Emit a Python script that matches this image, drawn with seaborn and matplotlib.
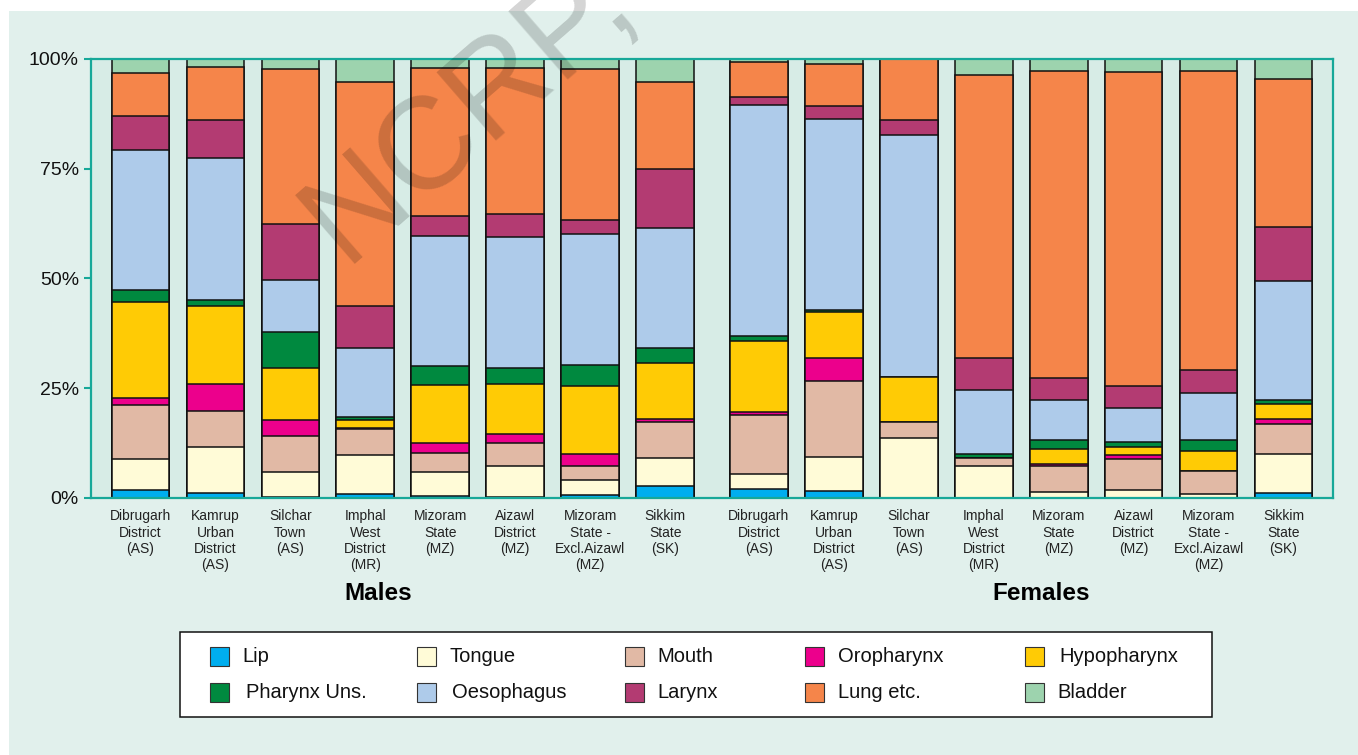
import numpy as np
import pandas as pd
import seaborn as sns
import matplotlib.pyplot as plt
from matplotlib.patches import Rectangle

# registries (same order for males and females)
places = ["Dibrugarh\nDistrict\n(AS)", "Kamrup\nUrban\nDistrict\n(AS)", "Silchar\nTown\n(AS)",
          "Imphal\nWest\nDistrict\n(MR)", "Mizoram\nState\n(MZ)", "Aizawl\nDistrict\n(MZ)",
          "Mizoram\nState -\nExcl.Aizawl\n(MZ)", "Sikkim\nState\n(SK)"]
groups = ["Males", "Females"]
sites = ["Lip", "Tongue", "Mouth", "Oropharynx", "Hypopharynx",
         "Pharynx Uns.", "Oesophagus", "Larynx", "Lung etc.", "Bladder"]

# percent of cases, 8 male bars then 8 female bars
lip = [1.8, 1.1, 0.2, 0.8, 0.5, 0.2, 0.7, 2.8, 2.0, 1.6, 0.0, 0.0, 0.0, 0.0, 0.0, 1.1]
tongue = [7.0, 10.5, 5.8, 9.0, 5.4, 7.1, 3.3, 6.2, 3.4, 7.7, 13.7, 7.3, 1.3, 1.9, 0.8, 8.9]
mouth = [12.4, 8.3, 8.2, 6.0, 4.3, 5.2, 3.2, 8.2, 13.5, 17.4, 3.5, 1.8, 6.1, 6.9, 5.3, 6.8]
oropharynx = [1.6, 6.1, 3.6, 0.2, 2.3, 2.0, 2.8, 0.7, 0.6, 5.2, 0.0, 0.0, 0.4, 0.9, 0.0, 1.2]
hypopharynx = [21.8, 17.8, 11.7, 1.7, 13.2, 11.4, 15.5, 12.8, 16.3, 10.5, 10.4, 0.0, 3.4, 2.0, 4.5, 3.3]
pharynx = [2.8, 1.2, 8.3, 0.7, 4.3, 3.8, 4.8, 3.5, 1.1, 0.5, 0.0, 0.9, 1.9, 1.0, 2.6, 1.1]
oesophagus = [31.9, 32.5, 11.8, 15.7, 29.7, 29.7, 29.9, 27.2, 52.7, 43.5, 55.1, 14.5, 9.2, 7.8, 10.7, 27.0]
larynx = [7.8, 8.7, 12.9, 9.7, 4.5, 5.2, 3.1, 13.6, 1.7, 2.9, 3.5, 7.3, 5.1, 5.0, 5.3, 12.4]
lung = [9.7, 11.9, 35.3, 50.9, 33.7, 33.3, 34.5, 19.7, 8.1, 9.5, 13.8, 64.6, 69.8, 71.5, 68.1, 33.7]
bladder = [3.2, 1.9, 2.2, 5.3, 2.1, 2.1, 2.2, 5.3, 0.6, 1.2, 0.0, 3.6, 2.8, 3.0, 2.7, 4.5]

colors = ["#00AEEF", "#FFFBD7", "#E1B9A5", "#EC008C", "#FFCB05",
          "#00893F", "#AECBEA", "#B33B72", "#F5854A", "#9DD3AE"]

sns.set_style("white")
plt.rcParams["font.family"] = ["Liberation Sans", "DejaVu Sans"]
plt.rcParams["text.color"] = "#111111"

W, H = 1358, 755
teal = "#17A899"
fig = plt.figure(figsize=(W / 100, H / 100), dpi=100, facecolor="white")
fig.patches.append(Rectangle((9 / W, 0), 1, 1 - 11 / H, transform=fig.transFigure,
                             fc="#E1F0EC", ec="none", zorder=-5))

ax = fig.add_axes([90.7 / W, 257 / H, 1242 / W, 439 / H])
ax.set_facecolor("#D7ECE6")

pos = list(np.arange(8)) + list(np.arange(8) + 8.25)
df = pd.DataFrame(dict(zip(sites, [lip, tongue, mouth, oropharynx, hypopharynx,
                                   pharynx, oesophagus, larynx, lung, bladder])))
df["pos"] = pos
cum = df[sites].cumsum(axis=1)

# draw from the top segment down so each lower one covers the stack below
for site, col in reversed(list(zip(sites, colors))):
    sns.barplot(x=df["pos"], y=cum[site], native_scale=True, color=col, saturation=1,
                edgecolor="#111111", linewidth=1.1, width=0.77, errorbar=None, ax=ax)

ax.set_xlim(-0.664, 15.906)
ax.set_ylim(0, 100)
ax.set_yticks([0, 25, 50, 75, 100])
ax.set_yticklabels(["0%", "25%", "50%", "75%", "100%"], fontsize=14, color="#111111")
ax.set_xticks(pos)
ax.set_xticklabels(places * 2, fontsize=10, color="#222222", linespacing=1.22)
ax.tick_params(axis="x", length=0, pad=8)
ax.tick_params(axis="y", length=5, width=1.5, color=teal, pad=3.5, left=True)
ax.set_xlabel("")
ax.set_ylabel("")
for s in ax.spines.values():
    s.set_color(teal)
    s.set_linewidth(1.6)
    s.set_visible(True)

fig.text(378 / W, 1 - 594 / H, groups[0], fontsize=17.5, fontweight="bold",
         ha="center", va="center", color="black")
fig.text(1041 / W, 1 - 594 / H, groups[1], fontsize=17.5, fontweight="bold",
         ha="center", va="center", color="black")

# legend box, two rows of five
fig.patches.append(Rectangle((180 / W, 1 - 717 / H), 1032 / W, 85 / H, transform=fig.transFigure,
                             fc="white", ec="#111111", lw=1.1, zorder=1))
mark_x = [210, 417, 625, 805, 1025]
text_x = [[242, 450, 657, 838, 1059], [246, 452, 657, 838, 1057]]
row_y = [656, 692]
for i, (site, col) in enumerate(zip(sites, colors)):
    r, c = divmod(i, 5)
    fig.patches.append(Rectangle((mark_x[c] / W, 1 - (row_y[r] + 9.5) / H), 19 / W, 19 / H,
                                 transform=fig.transFigure, fc=col, ec="#333333", lw=0.8, zorder=2))
    fig.text(text_x[r][c] / W, 1 - (row_y[r] + 1) / H, site, fontsize=14.5, ha="left",
             va="center", color="#111111")

# watermark
fig.text(468 / W, 1 - 110 / H, "NCRP,", rotation=41, fontsize=94, fontweight="normal",
         color="black", alpha=0.17, ha="center", va="center", zorder=10)

fig.savefig("out.png", dpi=100, facecolor=fig.get_facecolor())
